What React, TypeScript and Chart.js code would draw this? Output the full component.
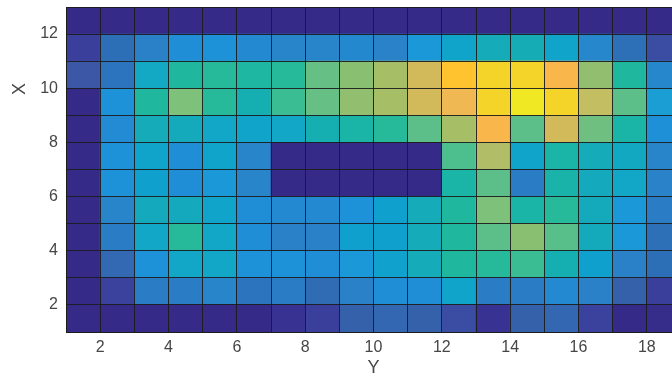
import React, { useEffect, useRef } from "react";
import { Chart, registerables } from "chart.js";

Chart.register(...registerables);

// Cell edges (pcolor-style grid): columns span x = 1..19, rows span y = 1..13
const xEdges = [1, 2, 3, 4, 5, 6, 7, 8, 9, 10, 11, 12, 13, 14, 15, 16, 17, 18, 19];
const yEdges = [1, 2, 3, 4, 5, 6, 7, 8, 9, 10, 11, 12, 13];

// Tick labels
const xTickLabels = [2, 4, 6, 8, 10, 12, 14, 16, 18];
const yTickLabels = [2, 4, 6, 8, 10, 12];

const xTitle = "Y";
const yTitle = "X";

// Cell values (0..1), one array per row, row index = lower y edge, columns x = 1..18
const zRow1 = [0, 0, 0, 0, 0, 0, 0.02, 0.045, 0.11, 0.125, 0.11, 0.065, 0.02, 0.11, 0.125, 0.05, 0, 0.005];
const zRow2 = [0, 0.05, 0.19, 0.19, 0.23, 0.17, 0.19, 0.14, 0.21, 0.27, 0.27, 0.37, 0.19, 0.19, 0.255, 0.21, 0.11, 0.045];
const zRow3 = [0, 0.13, 0.29, 0.39, 0.39, 0.29, 0.29, 0.27, 0.31, 0.36, 0.43, 0.52, 0.545, 0.57, 0.46, 0.355, 0.21, 0.15];
const zRow4 = [0, 0.19, 0.39, 0.545, 0.39, 0.27, 0.21, 0.21, 0.355, 0.355, 0.43, 0.52, 0.615, 0.685, 0.61, 0.42, 0.31, 0.155];
const zRow5 = [0, 0.23, 0.41, 0.41, 0.37, 0.27, 0.255, 0.255, 0.29, 0.355, 0.43, 0.52, 0.665, 0.49, 0.545, 0.42, 0.31, 0.19];
const zRow6 = [0, 0.29, 0.355, 0.27, 0.31, 0.23, 0, 0, 0, 0, 0, 0.49, 0.615, 0.19, 0.48, 0.41, 0.39, 0.22];
const zRow7 = [0, 0.29, 0.37, 0.27, 0.37, 0.23, 0, 0, 0, 0, 0, 0.59, 0.735, 0.37, 0.49, 0.43, 0.4, 0.23];
const zRow8 = [0, 0.26, 0.43, 0.42, 0.39, 0.37, 0.39, 0.46, 0.49, 0.545, 0.615, 0.72, 0.83, 0.615, 0.785, 0.645, 0.49, 0.28];
const zRow9 = [0, 0.29, 0.52, 0.665, 0.545, 0.46, 0.57, 0.63, 0.695, 0.72, 0.785, 0.815, 0.93, 1.0, 0.93, 0.76, 0.615, 0.33];
const zRow10 = [0.08, 0.17, 0.395, 0.52, 0.545, 0.51, 0.545, 0.63, 0.685, 0.72, 0.785, 0.87, 0.93, 0.93, 0.83, 0.695, 0.52, 0.24];
const zRow11 = [0.045, 0.15, 0.21, 0.27, 0.29, 0.255, 0.23, 0.23, 0.25, 0.22, 0.31, 0.37, 0.43, 0.44, 0.37, 0.24, 0.155, 0.065];
const zRow12 = [0, 0, 0, 0, 0, 0, 0, 0, 0, 0, 0, 0, 0, 0, 0, 0, 0, 0];

const zRows = [zRow1, zRow2, zRow3, zRow4, zRow5, zRow6, zRow7, zRow8, zRow9, zRow10, zRow11, zRow12];

// Parula-like colormap stops
const cmapPos = [0, 0.02, 0.045, 0.08, 0.11, 0.125, 0.15, 0.17, 0.19, 0.21, 0.23, 0.255, 0.27, 0.29, 0.31, 0.33, 0.355, 0.37, 0.39, 0.41, 0.43, 0.46, 0.49, 0.52, 0.545, 0.57, 0.59, 0.615, 0.63, 0.645, 0.665, 0.685, 0.695, 0.72, 0.735, 0.76, 0.785, 0.815, 0.83, 0.87, 0.93, 1.0];
const cmapRGB = [
  [53, 42, 135], [56, 50, 147], [58, 63, 156], [59, 87, 166], [53, 97, 171], [51, 103, 177],
  [45, 111, 182], [44, 116, 189], [42, 124, 196], [42, 129, 200], [41, 133, 201], [35, 137, 209],
  [31, 142, 214], [29, 146, 217], [26, 152, 215], [26, 158, 212], [16, 160, 206], [17, 164, 203],
  [18, 167, 198], [20, 169, 189], [22, 171, 184], [21, 175, 177], [27, 181, 167], [31, 184, 159],
  [38, 185, 154], [58, 189, 146], [77, 191, 143], [92, 191, 137], [102, 191, 132], [110, 191, 128],
  [125, 193, 123], [137, 191, 113], [145, 191, 111], [166, 190, 102], [177, 189, 103], [196, 190, 98],
  [210, 186, 90], [239, 184, 83], [248, 182, 75], [254, 195, 47], [245, 212, 42], [239, 232, 34],
];

function colormap(v: number): string {
  const t = Math.max(0, Math.min(1, v));
  for (let i = 1; i < cmapPos.length; i++) {
    if (t <= cmapPos[i]) {
      const a = cmapPos[i - 1];
      const b = cmapPos[i];
      const f = b === a ? 0 : (t - a) / (b - a);
      const c0 = cmapRGB[i - 1];
      const c1 = cmapRGB[i];
      const r = Math.round(c0[0] + (c1[0] - c0[0]) * f);
      const g = Math.round(c0[1] + (c1[1] - c0[1]) * f);
      const bl = Math.round(c0[2] + (c1[2] - c0[2]) * f);
      return `rgb(${r},${g},${bl})`;
    }
  }
  const c = cmapRGB[cmapRGB.length - 1];
  return `rgb(${c[0]},${c[1]},${c[2]})`;
}

const FONT = '"Liberation Sans", Arial, Helvetica, sans-serif';
const TEXT_COLOR = "#464646";
const EDGE_COLOR = "rgba(28,28,28,0.92)";

export default function App() {
  const canvasRef = useRef<HTMLCanvasElement | null>(null);

  useEffect(() => {
    if (!canvasRef.current) return;

    const datasets = zRows.map((row, ri) => ({
      label: `row ${yEdges[ri]}`,
      data: row.map((v, ci) => ({
        x: (xEdges[ci] + xEdges[ci + 1]) / 2,
        y: [yEdges[ri], yEdges[ri + 1]],
        v,
      })),
      backgroundColor: (ctx: any) => colormap(ctx.raw ? ctx.raw.v : 0),
      borderWidth: 0,
      grouped: false,
      barPercentage: 1,
      categoryPercentage: 1,
    }));

    const yTitlePlugin = {
      id: "yTitleLabel",
      afterDraw(chart: any) {
        const { ctx, chartArea } = chart;
        const yPix = chartArea.top + (chartArea.bottom - chartArea.top) * 0.252;
        ctx.save();
        ctx.translate(chartArea.left - 45.5, yPix);
        ctx.rotate(-Math.PI / 2);
        ctx.font = `18px ${FONT}`;
        ctx.fillStyle = TEXT_COLOR;
        ctx.textAlign = "center";
        ctx.textBaseline = "middle";
        ctx.fillText(yTitle, 0, 0);
        ctx.restore();
      },
    };

    const chart = new Chart(canvasRef.current, {
      type: "bar",
      data: { datasets: datasets as any },
      plugins: [yTitlePlugin],
      options: {
        animation: false,
        responsive: true,
        maintainAspectRatio: false,
        layout: { padding: { left: 0, right: 9, top: 7, bottom: 0 } },
        plugins: {
          legend: { display: false },
          tooltip: { enabled: false },
        },
        scales: {
          x: {
            type: "linear",
            min: xEdges[0],
            max: xEdges[xEdges.length - 1],
            offset: false,
            afterBuildTicks: (scale: any) => {
              scale.ticks = xEdges.map((v) => ({ value: v }));
            },
            afterFit: (scale: any) => {
              scale.height = 45;
              scale.paddingLeft = 0;
              scale.paddingRight = 0;
            },
            ticks: {
              autoSkip: false,
              maxRotation: 0,
              padding: 6,
              color: TEXT_COLOR,
              font: { family: FONT, size: 16 },
              callback: (val: any) => (xTickLabels.includes(Number(val)) ? String(val) : ""),
            },
            grid: { color: EDGE_COLOR, lineWidth: 1, drawTicks: false, offset: false, z: 1 },
            border: { display: true, color: EDGE_COLOR, width: 1, z: 1 },
            title: {
              display: true,
              text: xTitle,
              color: TEXT_COLOR,
              font: { family: FONT, size: 18, lineHeight: 1 },
              padding: { top: 0, bottom: 0 },
            },
          },
          y: {
            type: "linear",
            min: yEdges[0],
            max: yEdges[yEdges.length - 1],
            afterBuildTicks: (scale: any) => {
              scale.ticks = yEdges.map((v) => ({ value: v }));
            },
            afterFit: (scale: any) => {
              scale.width = 66;
              scale.paddingTop = 0;
              scale.paddingBottom = 0;
            },
            ticks: {
              autoSkip: false,
              padding: 8,
              color: TEXT_COLOR,
              font: { family: FONT, size: 16 },
              callback: (val: any) => (yTickLabels.includes(Number(val)) ? String(val) : ""),
            },
            grid: { color: EDGE_COLOR, lineWidth: 1, drawTicks: false, offset: false, z: 1 },
            border: { display: true, color: EDGE_COLOR, width: 1, z: 1 },
          },
        },
      },
    });

    return () => {
      chart.destroy();
    };
  }, []);

  return (
    <div
      style={{
        position: "absolute",
        left: 0,
        top: 0,
        width: 672,
        height: 377,
        overflow: "hidden",
        background: "#ffffff",
      }}
    >
      <div style={{ position: "relative", width: 690, height: 377 }}>
        <canvas ref={canvasRef} />
      </div>
    </div>
  );
}
